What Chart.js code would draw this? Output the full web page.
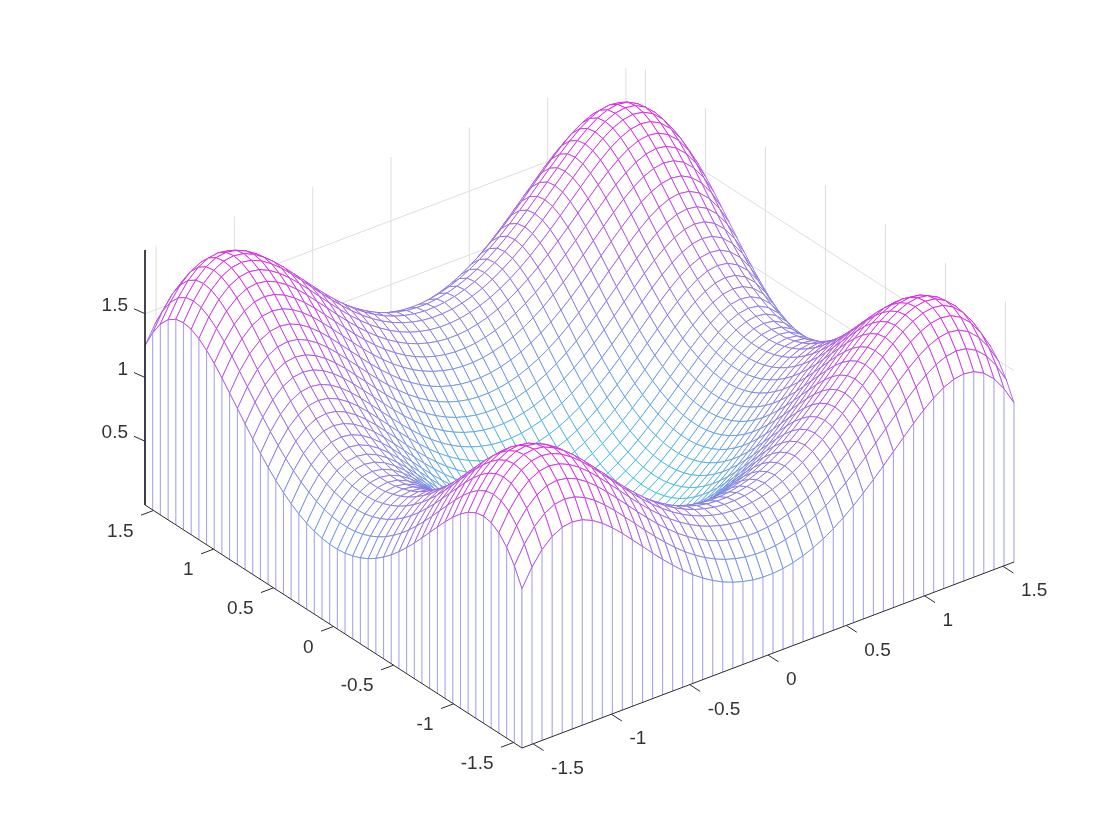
<!DOCTYPE html>
<html>
<head>
<meta charset="utf-8">
<style>html,body{margin:0;padding:0;background:#fff}canvas{display:block;filter:blur(0.3px)}</style>
<script src="https://cdn.jsdelivr.net/npm/chart.js@4/dist/chart.umd.js"></script>
</head>
<body>
<canvas id="c" width="1120" height="840"></canvas>
<script>
// Values. The surface has the same four humps in each quadrant,
// so one quadrant of heights (in thousandths) is stored, running from the outer edge to the middle.
const gridHalf = [-1.571,-1.507,-1.443,-1.378,-1.314,-1.250,-1.186,-1.122,-1.058,-0.994,-0.930,-0.866,-0.801,-0.737,-0.673,-0.609,-0.545,-0.481,-0.417,-0.353,-0.289,-0.224,-0.160,-0.096,-0.032];
const heightRows = [
[1248,1389,1496,1570,1612,1624,1611,1576,1524,1459,1385,1305,1223,1141,1062,987,917,853,797,748,707,674,650,633,625],
[1389,1530,1637,1711,1753,1765,1752,1717,1665,1600,1526,1446,1364,1282,1203,1128,1058,994,938,889,848,815,791,774,766],
[1496,1637,1744,1818,1860,1872,1859,1824,1772,1707,1633,1553,1471,1389,1310,1235,1165,1101,1045,996,955,922,898,881,873],
[1570,1711,1818,1892,1934,1946,1933,1898,1846,1781,1707,1627,1545,1463,1384,1309,1239,1175,1119,1070,1029,996,972,955,947],
[1612,1753,1860,1934,1976,1988,1975,1940,1888,1823,1749,1669,1587,1505,1426,1351,1281,1217,1161,1112,1071,1038,1014,997,989],
[1624,1765,1872,1946,1988,2000,1987,1952,1900,1835,1761,1681,1599,1517,1438,1363,1293,1229,1173,1124,1083,1050,1026,1009,1001],
[1611,1752,1859,1933,1975,1987,1974,1939,1887,1822,1748,1668,1586,1504,1425,1350,1280,1216,1160,1111,1070,1037,1013,996,988],
[1576,1717,1824,1898,1940,1952,1939,1904,1852,1787,1713,1633,1551,1469,1390,1315,1245,1181,1125,1076,1035,1002,978,961,953],
[1524,1665,1772,1846,1888,1900,1887,1852,1800,1735,1661,1581,1499,1417,1338,1263,1193,1129,1073,1024,983,950,926,909,901],
[1459,1600,1707,1781,1823,1835,1822,1787,1735,1670,1596,1516,1434,1352,1273,1198,1128,1064,1008,959,918,885,861,844,836],
[1385,1526,1633,1707,1749,1761,1748,1713,1661,1596,1522,1442,1360,1278,1199,1124,1054,990,934,885,844,811,787,770,762],
[1305,1446,1553,1627,1669,1681,1668,1633,1581,1516,1442,1362,1280,1198,1119,1044,974,910,854,805,764,731,707,690,682],
[1223,1364,1471,1545,1587,1599,1586,1551,1499,1434,1360,1280,1198,1116,1037,962,892,828,772,723,682,649,625,608,600],
[1141,1282,1389,1463,1505,1517,1504,1469,1417,1352,1278,1198,1116,1034,955,880,810,746,690,641,600,567,543,526,518],
[1062,1203,1310,1384,1426,1438,1425,1390,1338,1273,1199,1119,1037,955,876,801,731,667,611,562,521,488,464,447,439],
[987,1128,1235,1309,1351,1363,1350,1315,1263,1198,1124,1044,962,880,801,726,656,592,536,487,446,413,389,372,364],
[917,1058,1165,1239,1281,1293,1280,1245,1193,1128,1054,974,892,810,731,656,586,522,466,417,376,343,319,302,294],
[853,994,1101,1175,1217,1229,1216,1181,1129,1064,990,910,828,746,667,592,522,458,402,353,312,279,255,238,230],
[797,938,1045,1119,1161,1173,1160,1125,1073,1008,934,854,772,690,611,536,466,402,346,297,256,223,199,182,174],
[748,889,996,1070,1112,1124,1111,1076,1024,959,885,805,723,641,562,487,417,353,297,248,207,174,150,133,125],
[707,848,955,1029,1071,1083,1070,1035,983,918,844,764,682,600,521,446,376,312,256,207,166,133,109,92,84],
[674,815,922,996,1038,1050,1037,1002,950,885,811,731,649,567,488,413,343,279,223,174,133,100,76,59,51],
[650,791,898,972,1014,1026,1013,978,926,861,787,707,625,543,464,389,319,255,199,150,109,76,52,35,27],
[633,774,881,955,997,1009,996,961,909,844,770,690,608,526,447,372,302,238,182,133,92,59,35,18,10],
[625,766,873,947,989,1001,988,953,901,836,762,682,600,518,439,364,294,230,174,125,84,51,27,10,2]
];
const xyTickValues = [-1.5,-1,-0.5,0,0.5,1,1.5];
const xyTickLabels = ['-1.5','-1','-0.5','0','0.5','1','1.5'];
const zTickValues = [0.5,1,1.5];
const zTickLabels = ['0.5','1','1.5'];

const EDGE = 1.5708, Z_TOP = 2;
const gridAt = gridHalf.concat(gridHalf.slice().reverse().map(v => -v));
const mirror = i => i < 25 ? i : 49 - i;
const heightAt = (i, j) => heightRows[mirror(i)][mirror(j)] / 1000;

// View of the box: orthographic projection onto the page
function view(x, y, z) {
  const a = x + EDGE, b = y + EDGE;
  return { x: 522 + 156.6 * a - 120 * b, y: 748 - 59.2 * a - 77.35 * b - 127.5 * z };
}
const surf = (i, j) => view(gridAt[i], gridAt[j], heightAt(i, j));
function cool(z) {
  const t = Math.max(0, Math.min(1, z / Z_TOP));
  return `rgb(${Math.round(50 + 175 * t)},${Math.round(210 - 180 * t)},226)`;
}
const line = (pts, color, width) => ({
  data: pts, borderColor: color, borderWidth: width, fill: false, pointRadius: 0,
  showLine: true, tension: 0, clip: false
});
const GRID = '#dedede', AXIS = '#2a2a32', WIRE = 0.9;
const painted = [];   // back to front

// Back walls
xyTickValues.forEach(v => {
  painted.push(line([view(v, EDGE, 0), view(v, EDGE, Z_TOP)], GRID, 1));
  painted.push(line([view(EDGE, v, 0), view(EDGE, v, Z_TOP)], GRID, 1));
});
zTickValues.forEach(z => {
  painted.push(line([view(-EDGE, EDGE, z), view(EDGE, EDGE, z), view(EDGE, -EDGE, z)], GRID, 1));
});

// Surface cells, far corner first
for (let i = 48; i >= 0; i--) {
  for (let j = 48; j >= 0; j--) {
    const pts = [surf(i, j), surf(i + 1, j), surf(i + 1, j + 1), surf(i, j + 1), surf(i, j)];
    const mean = (heightAt(i, j) + heightAt(i + 1, j) + heightAt(i + 1, j + 1) + heightAt(i, j + 1)) / 4;
    painted.push({ data: pts, borderColor: cool(mean), borderWidth: WIRE, backgroundColor: '#ffffff',
      fill: 'shape', pointRadius: 0, showLine: true, tension: 0, clip: false });
  }
}

// Front curtains
const CURTAIN = '#a8a5ea';
function curtainFace(heightOf, place) {
  const top = [], bottom = [];
  for (let k = 0; k < 50; k++) { top.push(place(gridAt[k], heightOf(k))); bottom.push(place(gridAt[k], 0)); }
  painted.push({ data: top.concat(bottom.slice().reverse(), [top[0]]), borderWidth: 0, borderColor: 'rgba(0,0,0,0)',
    backgroundColor: '#ffffff', fill: 'shape', pointRadius: 0, showLine: true, tension: 0, clip: false });
  for (let k = 0; k < 50; k++) painted.push(line([top[k], bottom[k]], CURTAIN, 1.1));
  for (let k = 48; k >= 0; k--) painted.push(line([top[k], top[k + 1]], cool((heightOf(k) + heightOf(k + 1)) / 2), WIRE));
}
curtainFace(k => heightAt(0, k), (v, z) => view(-EDGE, v, z));
curtainFace(k => heightAt(k, 0), (v, z) => view(v, -EDGE, z));

// Axis lines and tick marks
painted.push(line([view(-EDGE, EDGE, Z_TOP), view(-EDGE, EDGE, 0), view(-EDGE, -EDGE, 0), view(EDGE, -EDGE, 0)], AXIS, 1));
xyTickValues.forEach(v => {
  const a = view(-EDGE, v, 0), b = view(v, -EDGE, 0);
  painted.push(line([a, { x: a.x - 12.5, y: a.y + 4.7 }], AXIS, 1));
  painted.push(line([b, { x: b.x + 10.5, y: b.y + 6.8 }], AXIS, 1));
});
zTickValues.forEach(z => {
  const a = view(-EDGE, EDGE, z);
  painted.push(line([a, { x: a.x - 11, y: a.y - 5 }], AXIS, 1));
});

const tickText = {
  id: 'tickText',
  afterDatasetsDraw(chart) {
    const { ctx, scales: { x: sx, y: sy } } = chart;
    ctx.save();
    ctx.fillStyle = '#333333';
    ctx.font = '19px "Liberation Sans", Arial, sans-serif';
    ctx.textBaseline = 'middle';
    xyTickValues.forEach((v, i) => {
      const a = view(-EDGE, v, 0), b = view(v, -EDGE, 0);
      ctx.textAlign = 'right';
      ctx.fillText(xyTickLabels[i], sx.getPixelForValue(a.x - 20), sy.getPixelForValue(a.y + 21));
      ctx.textAlign = 'left';
      ctx.fillText(xyTickLabels[i], sx.getPixelForValue(b.x + 18), sy.getPixelForValue(b.y + 25));
    });
    ctx.textAlign = 'right';
    zTickValues.forEach((z, i) => {
      const a = view(-EDGE, EDGE, z);
      ctx.fillText(zTickLabels[i], sx.getPixelForValue(128), sy.getPixelForValue(a.y - 8));
    });
    ctx.restore();
  }
};

new Chart(document.getElementById('c'), {
  type: 'scatter',
  data: { datasets: painted.reverse() },
  plugins: [tickText],
  options: {
    responsive: false, animation: false, events: [], devicePixelRatio: 1,
    layout: { padding: 0 },
    plugins: { legend: { display: false }, tooltip: { enabled: false }, title: { display: false } },
    scales: {
      x: { type: 'linear', min: 0, max: 1120, display: false },
      y: { type: 'linear', min: 0, max: 840, reverse: true, display: false }
    }
  }
});
</script>
</body>
</html>
